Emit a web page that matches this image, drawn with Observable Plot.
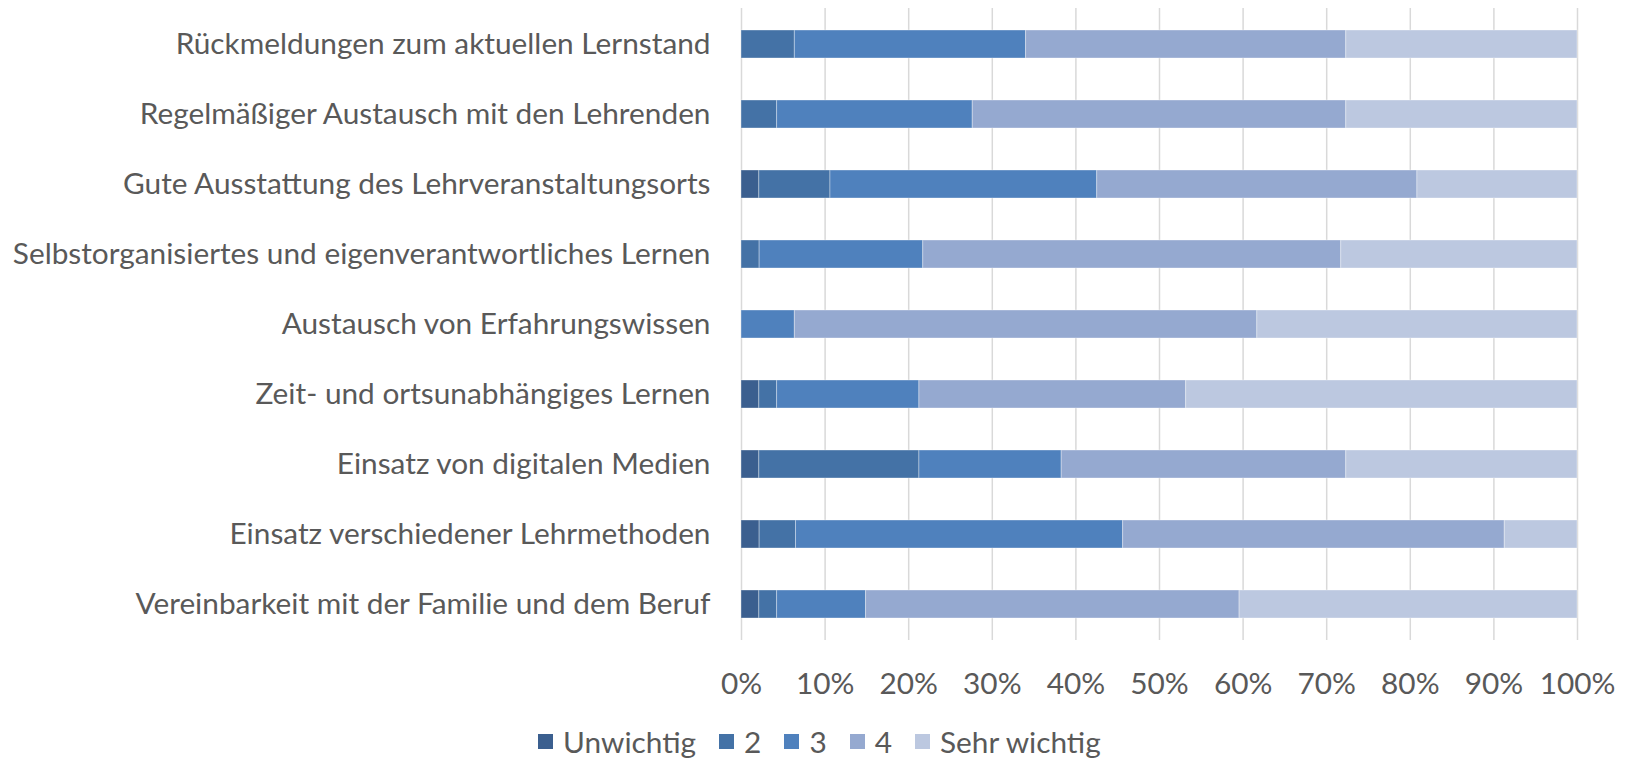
<!DOCTYPE html>
<html>
<head>
<meta charset="utf-8">
<script src="https://cdn.jsdelivr.net/npm/d3@7"></script>
<script src="https://cdn.jsdelivr.net/npm/@observablehq/plot@0.6"></script>
<style>
  html, body { margin: 0; padding: 0; background: #fff; }
  #chart svg { display: block; }
  .legend { display: flex; align-items: center; height: 49px; margin-top: 15px; margin-left: 538px;
            font-family: Lato, sans-serif; font-size: 29.8px; color: #595959; }
  .legend .item { display: flex; align-items: center; margin-right: 23px; }
  .legend .sw { width: 15px; height: 15px; margin-right: 10px; }
</style>
</head>
<body>
<div id="chart"></div>
<div class="legend" id="legend"></div>
<script>
const categories = [
  "Rückmeldungen zum aktuellen Lernstand",
  "Regelmäßiger Austausch mit den Lehrenden",
  "Gute Ausstattung des Lehrveranstaltungsorts",
  "Selbstorganisiertes und eigenverantwortliches Lernen",
  "Austausch von Erfahrungswissen",
  "Zeit- und ortsunabhängiges Lernen",
  "Einsatz von digitalen Medien",
  "Einsatz verschiedener Lehrmethoden",
  "Vereinbarkeit mit der Familie und dem Beruf"
];
const levels = ["Unwichtig", "2", "3", "4", "Sehr wichtig"];
const unwichtig  = [0,     0,     2.13,  0,     0,     2.13,  2.13,  2.17,  2.13];
const stufe2     = [6.38,  4.26,  8.51,  2.17,  0,     2.13,  19.15, 4.35,  2.13];
const stufe3     = [27.66, 23.40, 31.91, 19.57, 6.38,  17.02, 17.02, 39.13, 10.64];
const stufe4     = [38.30, 44.68, 38.30, 50.00, 55.32, 31.91, 34.04, 45.65, 44.68];
const sehrWichtig= [27.66, 27.66, 19.15, 28.26, 38.30, 46.81, 27.66, 8.70,  40.43];
const xTicks = [0, 10, 20, 30, 40, 50, 60, 70, 80, 90, 100];
const colors = ["#3b5f8f", "#4472a6", "#4f81bd", "#95a9d0", "#bcc8e0"];

const series = [unwichtig, stufe2, stufe3, stufe4, sehrWichtig];
const data = [];
categories.forEach((c, i) => {
  levels.forEach((l, j) => data.push({category: c, level: l, value: series[j][i]}));
});

const font = "Lato, sans-serif";
const chart = Plot.plot({
  width: 1626,
  height: 702,
  marginLeft: 741,
  marginRight: 49,
  marginTop: 8,
  marginBottom: 62,
  style: {fontFamily: font, fontSize: "29.8px", color: "#595959", background: "#fff"},
  x: {domain: [0, 100], ticks: xTicks, tickFormat: d => d + "%", label: null},
  y: {domain: categories, paddingInner: 0.6, paddingOuter: 0.3, label: null},
  color: {domain: levels, range: colors},
  marks: [
    Plot.ruleX(xTicks, {stroke: "#d9d9d9", strokeWidth: 1.5}),
    Plot.barX(data, Plot.stackX({
      x: "value", y: "category", fill: "level", order: levels,
      stroke: "white", strokeOpacity: 0.35, strokeWidth: 1
    })),
    Plot.axisX({ticks: xTicks, tickFormat: d => d + "%", tickSize: 0, tickPadding: 32, fill: "#595959", label: null}),
    Plot.axisY({tickSize: 0, tickPadding: 31, fill: "#595959", label: null})
  ]
});
document.getElementById("chart").appendChild(chart);

const legend = document.getElementById("legend");
levels.forEach((l, j) => {
  const item = document.createElement("div");
  item.className = "item";
  const sw = document.createElement("div");
  sw.className = "sw";
  sw.style.background = colors[j];
  const t = document.createElement("span");
  t.textContent = l;
  item.appendChild(sw);
  item.appendChild(t);
  legend.appendChild(item);
});
</script>
</body>
</html>
